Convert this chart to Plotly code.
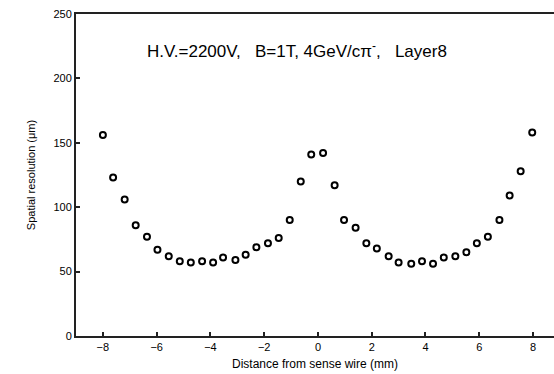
import plotly.graph_objects as go

distance_mm = [-8.0, -7.62, -7.19, -6.78, -6.36, -5.97, -5.55, -5.14, -4.73, -4.31,
               -3.9, -3.53, -3.07, -2.69, -2.29, -1.86, -1.46, -1.05, -0.64, -0.25,
               0.19, 0.62, 0.97, 1.40, 1.80, 2.19, 2.63, 3.0, 3.47, 3.87,
               4.28, 4.68, 5.11, 5.52, 5.91, 6.32, 6.75, 7.13, 7.54, 7.97]
resolution_um = [156, 123, 106, 86, 77, 67, 62, 58, 57, 58,
                 57, 61, 59, 63, 69, 72, 76, 90, 120, 141,
                 142, 117, 90, 84, 72, 68, 62, 57, 56, 58,
                 56, 61, 62, 65, 72, 77, 90, 109, 128, 158]
x_ticks = [-8, -6, -4, -2, 0, 2, 4, 6, 8]
y_ticks = [0, 50, 100, 150, 200, 250]

fig = go.Figure()
fig.add_trace(go.Scatter(
    x=distance_mm, y=resolution_um, mode="markers",
    marker=dict(symbol="circle-open", size=6, color="black", line=dict(width=2, color="black")),
    showlegend=False,
))

sp = "\u00a0"
title_text = f"H.V.=2200V,{sp*3}B=1T,{sp}4GeV/cπ<sup>-</sup>,{sp*3}Layer8"

axis_font = dict(family="Liberation Sans, Arial", size=11, color="black")
fig.update_layout(
    width=554, height=374,
    margin=dict(l=76, r=0, t=14, b=38),
    paper_bgcolor="white", plot_bgcolor="white",
    font=axis_font,
    xaxis=dict(range=[-9, 8.78], tickvals=x_ticks, ticks="inside", ticklen=4, tickwidth=2,
               tickcolor="#222", showline=True, linecolor="#222", linewidth=2, mirror=True,
               showgrid=False, zeroline=False,
               title=dict(text="Distance from sense wire (mm)", standoff=7,
                          font=dict(family="Liberation Sans, Arial", size=12, color="black"))),
    yaxis=dict(range=[0, 250], tickvals=y_ticks, ticks="inside", ticklen=4, tickwidth=2,
               tickcolor="#222", showline=True, linecolor="#222", linewidth=2, mirror=False,
               showgrid=False, zeroline=False,
               title=dict(text="Spatial resolution (μm)", standoff=16,
                          font=dict(family="Liberation Sans, Arial", size=11, color="black"))),
    annotations=[dict(text=title_text,
                      x=-6.45, y=222, xref="x", yref="y", xanchor="left", yanchor="middle",
                      showarrow=False,
                      font=dict(family="Liberation Sans, Arial", size=17, color="black"))],
)
fig.write_html("out.html")
